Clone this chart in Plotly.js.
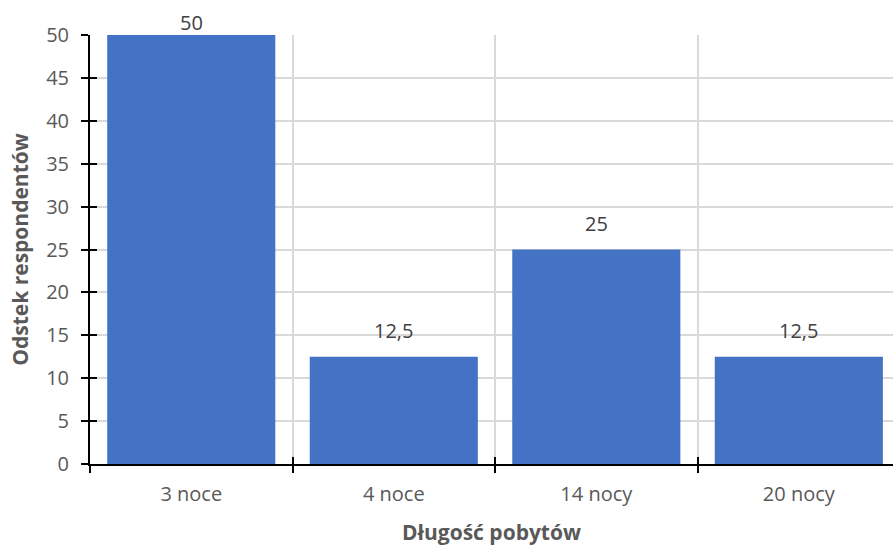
<!DOCTYPE html>
<html><head><meta charset="utf-8">
<script src="https://cdn.plot.ly/plotly-3.0.1.min.js"></script>
<style>html,body{margin:0;padding:0;overflow:hidden;background:#fff}</style>
</head><body><div id="chart" style="width:893px;height:546px"></div>
<script>
const categories = ["3 noce", "4 noce", "14 nocy", "20 nocy"];
const values = [50, 12.5, 25, 12.5];
const yTicks = [0, 5, 10, 15, 20, 25, 30, 35, 40, 45, 50];
const xTitle = "Długość pobytów";
const yTitle = "Odstek respondentów";

const FONT = "Open Sans, Noto Sans, sans-serif";
const yMax = 50;
const trace = {
  type: "bar", x: categories, y: values,
  marker: {color: "#4472c4"},
  hoverinfo: "skip"
};
const ghost = {type: "bar", x: categories, y: values, xaxis: "x2", yaxis: "y2",
  marker: {color: "rgba(0,0,0,0)"}, hoverinfo: "skip", showlegend: false};

const annotations = categories.map((c, i) => ({
  x: c, y: values[i], xref: "x", yref: "y",
  text: values[i].toLocaleString("pl-PL"),
  showarrow: false, yanchor: "bottom",
  yshift: values[i] >= yMax ? -3 : 11,
  font: {family: FONT, size: 20, color: "#404040"}
}));

const layout = {
  width: 893, height: 546,
  margin: {l: 90, r: 0, t: 35, b: 82},
  paper_bgcolor: "#fff", plot_bgcolor: "#fff",
  separators: ",.",
  bargap: 0.17,
  showlegend: false,
  font: {family: FONT, color: "#595959"},
  annotations: annotations,
  xaxis: {
    type: "category", range: [-0.5, 3.465],
    tickson: "boundaries", ticks: "outside", ticklen: 7, tickwidth: 2, tickcolor: "#000",
    showgrid: true, gridcolor: "#d9d9d9", gridwidth: 2,
    showline: true, linecolor: "#000", linewidth: 2,
    tickfont: {family: FONT, size: 20, color: "#595959"}, ticklabelstandoff: 11,
    title: {text: xTitle, font: {family: FONT, size: 21, color: "#595959", weight: "bold"}, standoff: 20},
    zeroline: false
  },
  yaxis: {
    range: [0, yMax], tickvals: yTicks,
    ticks: "outside", ticklen: 7, tickwidth: 2, tickcolor: "#000",
    showgrid: true, gridcolor: "#d9d9d9", gridwidth: 2,
    showline: true, linecolor: "#000", linewidth: 2,
    tickfont: {family: FONT, size: 20, color: "#595959"}, ticklabelstandoff: 8,
    title: {text: yTitle, font: {family: FONT, size: 21, color: "#595959", weight: "bold"}, standoff: 12},
    zeroline: false
  },
  xaxis2: {type: "category", overlaying: "x", range: [-0.5, 3.465], tickson: "boundaries",
    ticks: "inside", ticklen: 7, tickwidth: 2, tickcolor: "#000",
    showgrid: false, showticklabels: false, showline: false, zeroline: false, anchor: "y2", side: "bottom"},
  yaxis2: {overlaying: "y", range: [0, yMax], tickvals: yTicks,
    ticks: "inside", ticklen: 7, tickwidth: 2, tickcolor: "#000",
    showgrid: false, showticklabels: false, showline: false, zeroline: false, anchor: "x2", side: "left"}
};
Plotly.newPlot("chart", [trace, ghost], layout, {displayModeBar: false, staticPlot: true});
</script></body></html>
